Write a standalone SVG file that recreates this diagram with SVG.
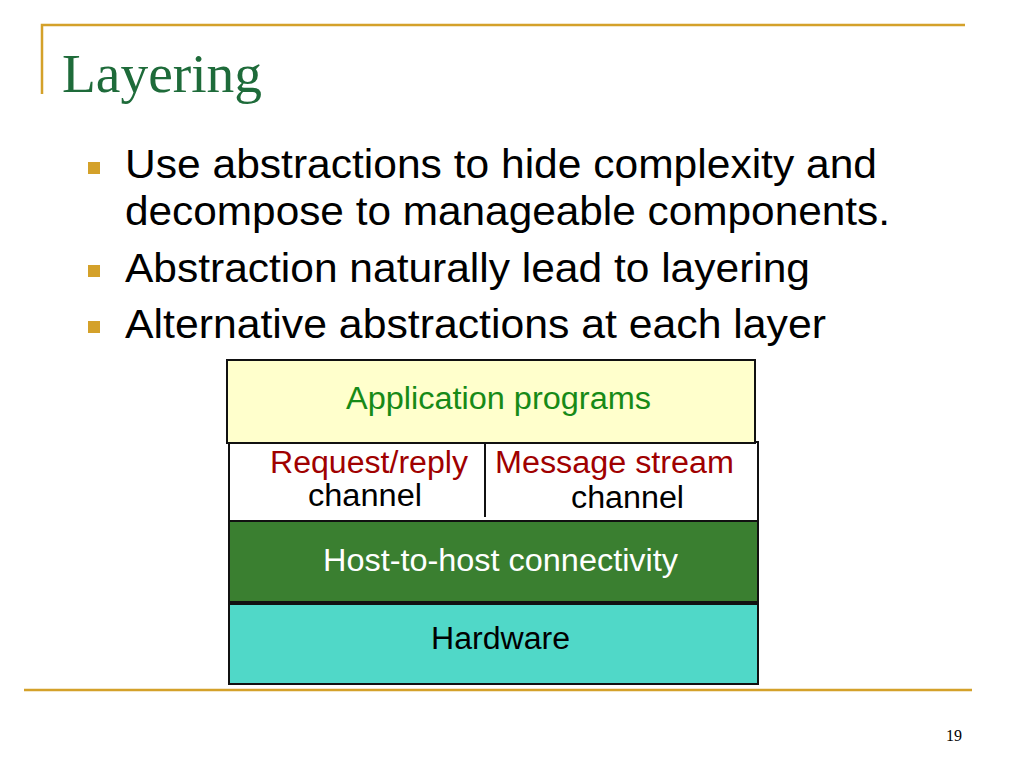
<svg xmlns="http://www.w3.org/2000/svg" width="1024" height="768" viewBox="0 0 1024 768">
<style>
.rule{stroke:#D4A12A;stroke-width:2.5;fill:none}
.bullet{fill:#D4A12A}
.body{font-family:"Liberation Sans",Arial,sans-serif;font-size:40px;fill:#000}
.box{stroke:#111;stroke-width:2}
.lbl{font-family:"Liberation Sans",Arial,sans-serif;font-size:31px}
</style>
<rect width="1024" height="768" fill="#fff"/>
<path class="rule" d="M42,94 V25 H965"/>
<line class="rule" x1="24" y1="690" x2="972" y2="690"/>
<text x="62" y="92" font-family="'Liberation Serif','Times New Roman',serif" font-size="54" fill="#1E6B3A" textLength="200" lengthAdjust="spacingAndGlyphs">Layering</text>
<g id="bullets">
<rect class="bullet" x="88" y="162" width="12" height="12"/>
<rect class="bullet" x="88" y="265" width="12" height="12"/>
<rect class="bullet" x="88" y="321" width="12" height="12"/>
<text class="body" x="125" y="178" textLength="752" lengthAdjust="spacingAndGlyphs">Use abstractions to hide complexity and</text>
<text class="body" x="125" y="225" textLength="765" lengthAdjust="spacingAndGlyphs">decompose to manageable components.</text>
<text class="body" x="125" y="282" textLength="685" lengthAdjust="spacingAndGlyphs">Abstraction naturally lead to layering</text>
<text class="body" x="125" y="338" textLength="701" lengthAdjust="spacingAndGlyphs">Alternative abstractions at each layer</text>
</g>
<g id="channels">
<rect class="box" x="229" y="442" width="529" height="79" fill="#fff"/>
<line x1="485" y1="441" x2="485" y2="517" stroke="#111" stroke-width="2"/>
<text class="lbl" x="270" y="473" fill="#A00000" textLength="198" lengthAdjust="spacingAndGlyphs">Request/reply</text>
<text class="lbl" x="308" y="506" fill="#000" textLength="114" lengthAdjust="spacingAndGlyphs">channel</text>
<text class="lbl" x="495" y="473" fill="#A00000" textLength="239" lengthAdjust="spacingAndGlyphs">Message stream</text>
<text class="lbl" x="571" y="508" fill="#000" textLength="113" lengthAdjust="spacingAndGlyphs">channel</text>
</g>
<g id="app">
<rect class="box" x="227" y="360" width="528" height="83" fill="#FFFFCC"/>
<text class="lbl" x="346" y="409" fill="#178A17" textLength="305" lengthAdjust="spacingAndGlyphs">Application programs</text>
</g>
<g id="host">
<rect class="box" x="229" y="521" width="529" height="81" fill="#3A7F30"/>
<text class="lbl" x="323" y="571" fill="#fff" textLength="355" lengthAdjust="spacingAndGlyphs">Host-to-host connectivity</text>
</g>
<g id="hardware">
<rect class="box" x="229" y="604" width="529" height="80" fill="#50D8C8"/>
<text class="lbl" x="431" y="649" fill="#000" textLength="139" lengthAdjust="spacingAndGlyphs">Hardware</text>
</g>
<text x="954" y="741" font-family="'Liberation Serif','Times New Roman',serif" font-size="16" text-anchor="middle" fill="#000">19</text>
</svg>
